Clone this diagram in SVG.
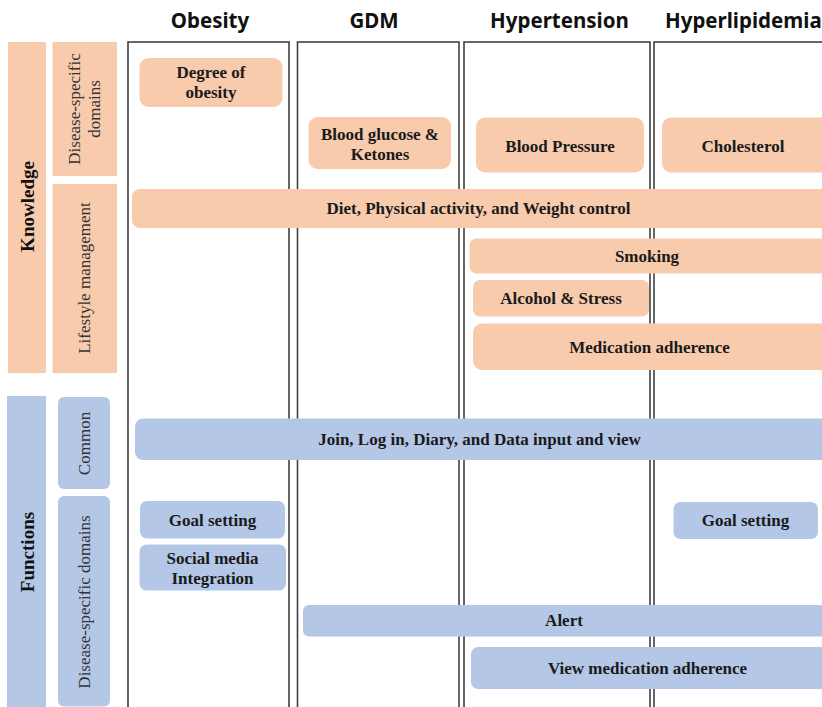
<svg xmlns="http://www.w3.org/2000/svg" width="822" height="707" viewBox="0 0 822 707">
<style>
.col{fill:#ffffff;stroke:#404040;stroke-width:1.6}
.hdr{font-family:"Noto Sans","Open Sans",sans-serif;font-weight:bold;font-size:20.5px;fill:#111;text-anchor:middle}
.pk{fill:#F8CBAD}
.bl{fill:#B4C7E7}
.nt{font-family:"Liberation Serif","Times New Roman",serif;font-weight:bold;font-size:17px;fill:#1a1a1a;text-anchor:middle}
.side{font-family:"Liberation Serif","Times New Roman",serif;font-size:17px;fill:#333;text-anchor:middle}
.sideb{font-family:"Liberation Serif","Times New Roman",serif;font-weight:bold;font-size:19px;fill:#111;text-anchor:middle}
</style>
<rect width="822" height="707" fill="#ffffff"/>
<g id="columns">
<g id="col-obesity"><rect class="col" x="128" y="42" width="161" height="700"/><text class="hdr" x="210" y="28">Obesity</text></g>
<g id="col-gdm"><rect class="col" x="297.5" y="42" width="161.5" height="700"/><text class="hdr" x="374" y="28">GDM</text></g>
<g id="col-hypertension"><rect class="col" x="464" y="42" width="186" height="700"/><text class="hdr" x="559.5" y="28">Hypertension</text></g>
<g id="col-hyperlipidemia"><rect class="col" x="654" y="42" width="200" height="700"/><text class="hdr" x="665" y="28" style="text-anchor:start">Hyperlipidemia</text></g>
</g>
<g id="side-labels">
<g id="knowledge"><rect class="pk" x="8" y="42" width="38" height="331"/><text class="sideb" transform="translate(34,206.5) rotate(-90)">Knowledge</text></g>
<g id="k-disease"><rect class="pk" x="52.5" y="42" width="64.5" height="134"/><text class="side" transform="translate(80,109) rotate(-90)">Disease-specific</text><text class="side" transform="translate(100,109) rotate(-90)">domains</text></g>
<g id="k-lifestyle"><rect class="pk" x="52.5" y="184" width="64.5" height="189"/><text class="side" transform="translate(90,278) rotate(-90)">Lifestyle management</text></g>
<g id="functions"><rect class="bl" x="7" y="396" width="39" height="320"/><text class="sideb" transform="translate(33.5,552) rotate(-90)">Functions</text></g>
<g id="f-common"><rect class="bl" x="58" y="397" width="52" height="92" rx="6"/><text class="side" transform="translate(89.5,443.5) rotate(-90)">Common</text></g>
<g id="f-disease"><rect class="bl" x="58" y="496" width="52" height="210.5" rx="6"/><text class="side" transform="translate(89.5,602) rotate(-90)">Disease-specific domains</text></g>
</g>
<g id="connectors"></g>
<g id="n-degree"><rect class="pk" x="139.5" y="58" width="143" height="49" rx="9"/><text class="nt" x="211" y="78">Degree of</text><text class="nt" x="211" y="98">obesity</text></g>
<g id="n-glucose"><rect class="pk" x="308.5" y="117" width="142.5" height="52" rx="9"/><text class="nt" x="380" y="139.5">Blood glucose &amp;</text><text class="nt" x="380" y="159.5">Ketones</text></g>
<g id="n-bp"><rect class="pk" x="476" y="117.5" width="168" height="55" rx="9"/><text class="nt" x="560" y="151.5">Blood Pressure</text></g>
<g id="n-chol"><rect class="pk" x="662" y="117.5" width="180" height="55" rx="9"/><text class="nt" x="743" y="151.5">Cholesterol</text></g>
<g id="n-diet"><rect class="pk" x="132" y="189" width="710" height="39" rx="8"/><text class="nt" x="478.5" y="214">Diet, Physical activity, and Weight control</text></g>
<g id="n-smoking"><rect class="pk" x="469.5" y="238.5" width="372" height="35" rx="7"/><text class="nt" x="647" y="262">Smoking</text></g>
<g id="n-alcohol"><rect class="pk" x="473" y="280" width="176" height="36.5" rx="7"/><text class="nt" x="561" y="304">Alcohol &amp; Stress</text></g>
<g id="n-med"><rect class="pk" x="473" y="323.5" width="369" height="46.5" rx="9"/><text class="nt" x="649.5" y="352.5">Medication adherence</text></g>
<g id="n-join"><rect class="bl" x="135" y="418.5" width="707" height="41.5" rx="8"/><text class="nt" x="479.5" y="444.5">Join, Log in, Diary, and Data input and view</text></g>
<g id="n-goal1"><rect class="bl" x="140" y="501" width="145" height="37.5" rx="7"/><text class="nt" x="212.5" y="526">Goal setting</text></g>
<g id="n-social"><rect class="bl" x="139.5" y="544.5" width="146.5" height="46" rx="7"/><text class="nt" x="212.5" y="563.5">Social media</text><text class="nt" x="212.5" y="583.5">Integration</text></g>
<g id="n-goal2"><rect class="bl" x="673.5" y="502" width="144.5" height="37" rx="7"/><text class="nt" x="745.5" y="526">Goal setting</text></g>
<g id="n-alert"><rect class="bl" x="303" y="605" width="539" height="31.5" rx="6"/><text class="nt" x="564" y="626">Alert</text></g>
<g id="n-viewmed"><rect class="bl" x="471" y="647" width="371" height="42" rx="7"/><text class="nt" x="647.5" y="673.5">View medication adherence</text></g>
</svg>
